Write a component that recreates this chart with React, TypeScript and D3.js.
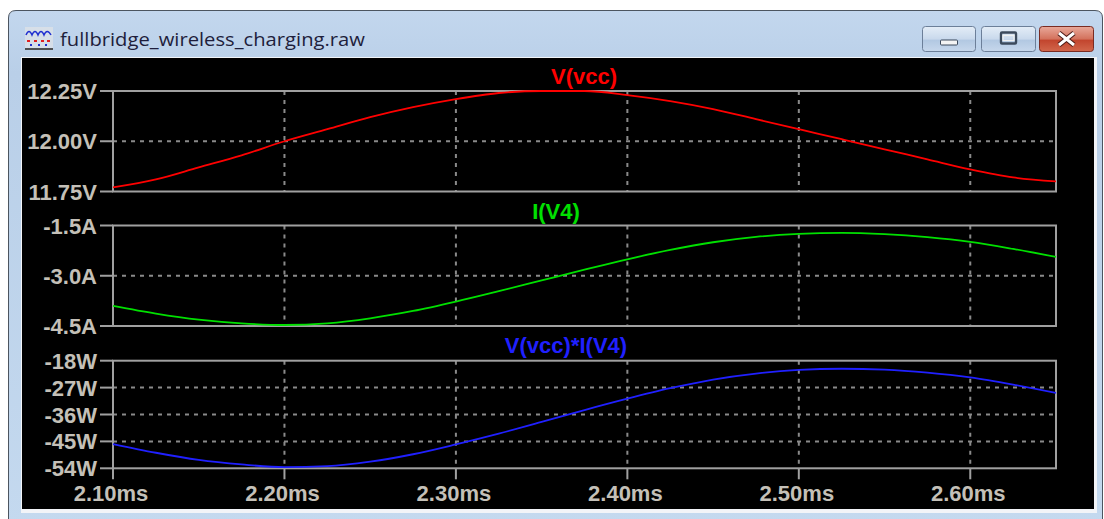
import React from "react";
import * as d3 from "d3";

const times = [2.1, 2.125, 2.15, 2.175, 2.2, 2.225, 2.25, 2.275, 2.3, 2.325, 2.35, 2.375, 2.4, 2.425, 2.45, 2.475, 2.5, 2.525, 2.55, 2.575, 2.6, 2.625, 2.65];
const vcc = [11.77, 11.81, 11.87, 11.93, 12.0, 12.06, 12.12, 12.17, 12.21, 12.24, 12.25, 12.25, 12.23, 12.2, 12.16, 12.11, 12.06, 12.01, 11.96, 11.91, 11.86, 11.82, 11.8];
const iv4 = [-3.9, -4.13, -4.31, -4.42, -4.47, -4.42, -4.27, -4.05, -3.77, -3.46, -3.14, -2.82, -2.51, -2.23, -2.0, -1.84, -1.75, -1.72, -1.76, -1.85, -1.99, -2.2, -2.44];
const power = [-45.9, -48.8, -51.2, -52.7, -53.6, -53.3, -51.8, -49.3, -46.0, -42.4, -38.5, -34.5, -30.7, -27.2, -24.3, -22.3, -21.1, -20.7, -21.0, -22.0, -23.6, -26.0, -28.8];

const xTicks = [2.1, 2.2, 2.3, 2.4, 2.5, 2.6];
const xTickLabels = ["2.10ms", "2.20ms", "2.30ms", "2.40ms", "2.50ms", "2.60ms"];
const vTicks = [12.25, 12.0, 11.75];
const vTickLabels = ["12.25V", "12.00V", "11.75V"];
const iTicks = [-1.5, -3.0, -4.5];
const iTickLabels = ["-1.5A", "-3.0A", "-4.5A"];
const pTicks = [-18, -27, -36, -45, -54];
const pTickLabels = ["-18W", "-27W", "-36W", "-45W", "-54W"];

const windowTitle = "fullbridge_wireless_charging.raw";

const PL = 113;
const PR = 1056;
const FONT = "'Liberation Sans', Arial, sans-serif";
const LABEL = "#c4c0b8";
const FRAME = "#a0a0a0";
const GRID = "#8a8a8a";

const x = d3.scaleLinear().domain([2.1, 2.65]).range([PL, PR]);

type Panel = {
  name: string;
  color: string;
  titleX: number;
  titleY: number;
  top: number;
  bottom: number;
  domain: [number, number];
  ticks: number[];
  labels: string[];
  values: number[];
};

const panels: Panel[] = [
  { name: "V(vcc)", color: "#ff0000", titleX: 584, titleY: 84, top: 91, bottom: 191.5, domain: [11.75, 12.25], ticks: vTicks, labels: vTickLabels, values: vcc },
  { name: "I(V4)", color: "#00e000", titleX: 556, titleY: 219, top: 225.5, bottom: 326, domain: [-4.5, -1.5], ticks: iTicks, labels: iTickLabels, values: iv4 },
  { name: "V(vcc)*I(V4)", color: "#2020ff", titleX: 566, titleY: 353, top: 360.7, bottom: 468.3, domain: [-54, -18], ticks: pTicks, labels: pTickLabels, values: power },
];

function PanelView({ p, last }: { p: Panel; last: boolean }) {
  const y = d3.scaleLinear().domain(p.domain).range([p.bottom, p.top]);
  const line = d3
    .line<number>()
    .x((_, i) => x(times[i]))
    .y((v) => y(v))
    .curve(d3.curveMonotoneX);
  return (
    <g>
      <text x={p.titleX} y={p.titleY} textAnchor="middle" fill={p.color} fontFamily={FONT} fontWeight="bold" fontSize={22}>
        {p.name}
      </text>
      {xTicks.slice(1).map((t) => (
        <line key={"vx" + t} x1={x(t)} x2={x(t)} y1={p.top} y2={p.bottom} stroke={GRID} strokeWidth={2} strokeDasharray="4,5" />
      ))}
      {p.ticks.map((t, i) => {
        const yy = y(t);
        const interior = i > 0 && i < p.ticks.length - 1;
        return (
          <g key={"yt" + t}>
            {interior && <line x1={PL} x2={PR} y1={yy} y2={yy} stroke={GRID} strokeWidth={2} strokeDasharray="4,5" />}
            <line x1={100} x2={PL} y1={yy} y2={yy} stroke={FRAME} strokeWidth={2} />
            <text x={97} y={yy + 8} textAnchor="end" fill={LABEL} fontFamily={FONT} fontWeight="bold" fontSize={22}>
              {p.labels[i]}
            </text>
          </g>
        );
      })}
      <rect x={PL} y={p.top} width={PR - PL} height={p.bottom - p.top} fill="none" stroke={FRAME} strokeWidth={2} />
      <path d={line(p.values) || ""} fill="none" stroke={p.color} strokeWidth={1.8} />
      {last &&
        xTicks.map((t, i) => (
          <g key={"xt" + t}>
            <line x1={x(t)} x2={x(t)} y1={p.bottom} y2={p.bottom + 11} stroke={FRAME} strokeWidth={2} />
            <text x={x(t) - 2} y={501} textAnchor="middle" fill={LABEL} fontFamily={FONT} fontWeight="bold" fontSize={22}>
              {xTickLabels[i]}
            </text>
          </g>
        ))}
    </g>
  );
}

function Button({ x0, w, kind }: { x0: number; w: number; kind: "min" | "max" | "close" }) {
  const isClose = kind === "close";
  const gid = "g" + kind;
  return (
    <g>
      <defs>
        <linearGradient id={gid} x1="0" y1="0" x2="0" y2="1">
          {isClose ? (
            <>
              <stop offset="0" stopColor="#e9a99b" />
              <stop offset="0.5" stopColor="#d3715c" />
              <stop offset="0.55" stopColor="#c2452e" />
              <stop offset="1" stopColor="#d2674c" />
            </>
          ) : (
            <>
              <stop offset="0" stopColor="#e4edf7" />
              <stop offset="0.5" stopColor="#c9d9ec" />
              <stop offset="0.55" stopColor="#b2c8e2" />
              <stop offset="1" stopColor="#c7d8ec" />
            </>
          )}
        </linearGradient>
      </defs>
      <rect x={x0 + 0.5} y={26.5} width={w} height={25} rx={3} fill={`url(#${gid})`} stroke={isClose ? "#7a2b22" : "#6c7f99"} strokeWidth={1} />
      {kind === "min" && <rect x={x0 + w / 2 - 8} y={40} width={17} height={5} rx={1} fill="#f4f4f4" stroke="#3c4a5c" strokeWidth={1} />}
      {kind === "max" && (
        <rect x={x0 + w / 2 - 7} y={32.5} width={15} height={11} rx={1} fill="none" stroke="#3c4a5c" strokeWidth={2.4} />
      )}
      {kind === "max" && <rect x={x0 + w / 2 - 5} y={35.5} width={11} height={5} fill="none" stroke="#f0f0f0" strokeWidth={1.2} />}
      {isClose && (
        <g>
          <path d={`M${x0 + w / 2 - 7},33 L${x0 + w / 2 + 8},45 M${x0 + w / 2 + 8},33 L${x0 + w / 2 - 7},45`} stroke="#4a1a16" strokeWidth={5} />
          <path d={`M${x0 + w / 2 - 7},33 L${x0 + w / 2 + 8},45 M${x0 + w / 2 + 8},33 L${x0 + w / 2 - 7},45`} stroke="#ffffff" strokeWidth={3} />
        </g>
      )}
    </g>
  );
}

export default function App() {
  return (
    <svg width={1104} height={519} style={{ position: "absolute", left: 0, top: 0, display: "block" }}>
      <defs>
        <linearGradient id="frameGrad" x1="0" y1="0" x2="0" y2="1">
          <stop offset="0" stopColor="#c3d7ee" />
          <stop offset="0.12" stopColor="#b9cfe8" />
          <stop offset="1" stopColor="#c4d9ef" />
        </linearGradient>
      </defs>
      <rect x={0} y={0} width={1104} height={519} fill="#ffffff" />
      <path d="M8.5,530 L8.5,18 Q8.5,10.5 16,10.5 L1095,10.5 Q1102.5,10.5 1102.5,18 L1102.5,530" fill="url(#frameGrad)" stroke="#4c5560" strokeWidth={1} />
      {/* icon */}
      <g>
        <rect x={25} y={27} width={28} height={23} fill="#e6e6e6" opacity={0.6} />
        <path d="M26,35 Q29,28 32,35 Q35,28 38,35 Q41,28 44,35 Q47,28 51,35" fill="none" stroke="#2030d0" strokeWidth={1.5} />
        <path d="M27,41 h3 M34,41 h3 M41,41 h3 M47,41 h3" stroke="#e02020" strokeWidth={2} />
        <path d="M30,45 h2 M38,45 h2 M45,45 h2" stroke="#2030d0" strokeWidth={2} />
        <path d="M25,49 h28" stroke="#202020" strokeWidth={1.5} />
      </g>
      <text x={60} y={46} fill="#1e1e3c" fontFamily="'Open Sans', 'Noto Sans', sans-serif" fontSize={18} textLength={305} lengthAdjust="spacingAndGlyphs">
        {windowTitle}
      </text>
      <Button x0={922} w={53} kind="min" />
      <Button x0={981} w={54} kind="max" />
      <Button x0={1039} w={54} kind="close" />
      <rect x={21} y={57} width={1076} height={456} fill="#f2f4f8" stroke="#8898aa" strokeWidth={0} />
      <rect x={22} y={58} width={1072} height={451} fill="#000000" />
      {panels.map((p, i) => (
        <PanelView key={p.name} p={p} last={i === panels.length - 1} />
      ))}
    </svg>
  );
}
